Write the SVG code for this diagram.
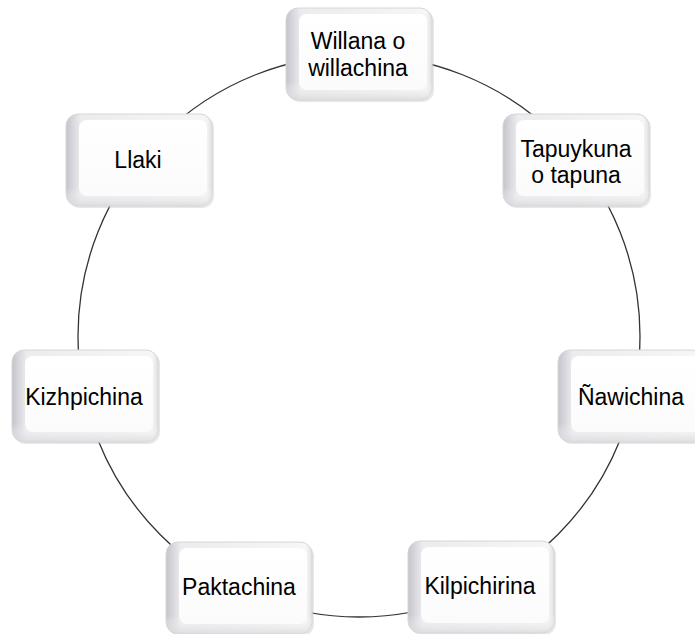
<svg xmlns="http://www.w3.org/2000/svg" width="695" height="634" viewBox="0 0 695 634">
<defs>
<linearGradient id="gH" x1="0" y1="0" x2="1" y2="0">
<stop offset="0" stop-color="#c4c4cb"/>
<stop offset="0.1" stop-color="#ececef"/>
<stop offset="0.96" stop-color="#f6f6f6"/>
<stop offset="1" stop-color="#e2e2e2"/>
</linearGradient>
<linearGradient id="gV" x1="0" y1="0" x2="0" y2="1">
<stop offset="0" stop-color="#ffffff"/>
<stop offset="1" stop-color="#fbfbfc"/>
</linearGradient>
<linearGradient id="gB" x1="0" y1="0" x2="0" y2="1">
<stop offset="0.8" stop-color="#ffffff" stop-opacity="0"/>
<stop offset="1" stop-color="#d8d8dc" stop-opacity="0.8"/>
</linearGradient>
<g id="btn">
<rect x="2" y="2" width="146" height="92" rx="12" fill="#c4c4c4" opacity="0.4"/>
<rect x="0" y="0" width="146" height="92" rx="12" fill="url(#gH)" stroke="#d6d6d6" stroke-width="1"/>
<rect x="0" y="0" width="146" height="92" rx="12" fill="url(#gB)"/>
<rect x="13" y="6" width="128" height="76" rx="8" fill="url(#gV)"/>
</g>
</defs>
<style>
.t{font-family:"Liberation Sans",Arial,sans-serif;font-size:23px;fill:#000;text-anchor:middle}
.c{fill:none;stroke:#333;stroke-width:1.3}
</style>
<g id="connectors">
<circle class="c" cx="359" cy="336" r="281"/>
</g>
<g id="n1"><use href="#btn" x="286" y="8"/><text class="t" x="358" y="49">Willana o</text><text class="t" x="358" y="76">willachina</text></g>
<g id="n2"><use href="#btn" x="503" y="114"/><text class="t" x="576" y="157">Tapuykuna</text><text class="t" x="576" y="183">o tapuna</text></g>
<g id="n3"><use href="#btn" x="558" y="350"/><text class="t" x="631" y="405">Ñawichina</text></g>
<g id="n4"><use href="#btn" x="408" y="541"/><text class="t" x="480" y="594">Kilpichirina</text></g>
<g id="n5"><use href="#btn" x="166" y="542"/><text class="t" x="239" y="595">Paktachina</text></g>
<g id="n6"><use href="#btn" x="12" y="350"/><text class="t" x="84" y="405">Kizhpichina</text></g>
<g id="n7"><use href="#btn" x="66" y="114"/><text class="t" x="138" y="168">Llaki</text></g>
</svg>
